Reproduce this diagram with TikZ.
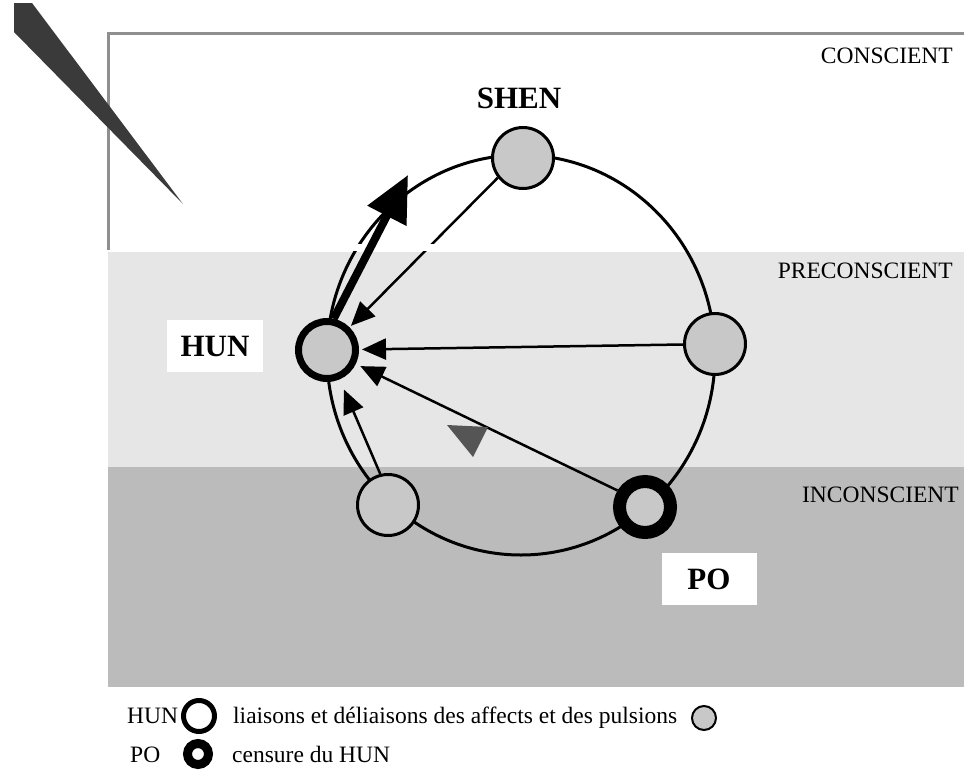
\documentclass[tikz,border=0pt]{standalone}
\usepackage{fontspec}
\setmainfont{Liberation Serif}
\usetikzlibrary{arrows.meta}

\definecolor{preC}{HTML}{E6E6E6}
\definecolor{inC}{HTML}{BBBBBB}
\definecolor{hatchC}{HTML}{C8C8C8}
\definecolor{frameC}{HTML}{8F8F8F}
\definecolor{wedgeC}{HTML}{3A3A3A}
\definecolor{markC}{HTML}{555555}

\begin{document}
\begin{tikzpicture}[x=1pt,y=-1pt,
  txt/.style={font=\fontsize{23.5}{28}\selectfont, inner sep=0pt},
  bigtxt/.style={font=\fontsize{31}{36}\selectfont\bfseries, inner sep=0pt},
  psyche/.style={circle, draw, line width=3pt, fill=hatchC, minimum size=61pt, inner sep=0pt},
  hunnode/.style={psyche, line width=7pt, minimum size=57pt},
  ponode/.style={psyche, line width=13pt, minimum size=51pt},
  conn/.style={line width=2.5pt, -{Triangle[length=24pt,width=21pt]}},
  mainarrow/.style={line width=8pt, -{Triangle[length=46pt,width=42pt]}},
  labelbox/.style={fill=white, inner sep=0pt},
]
\useasboundingbox (0,0) rectangle (964,774);

% levels of the psyche
\fill[preC] (108,252) rectangle (964,467);
\fill[inC] (108,467) rectangle (964,687);
\draw[frameC, line width=3pt] (108,250) -- (108,33) -- (964,33);

% the cycle
\draw[line width=3pt] (521,355) ellipse [x radius=194, y radius=200];

% the five instances
\node[psyche] (shen) at (523,158) {};
\node[hunnode] (hun) at (327,350) {};
\node[psyche] (right) at (715,344) {};
\node[psyche] (low) at (388,505) {};
\node[ponode] (po) at (645,507) {};

% links converging on HUN
\draw[conn, shorten >=2pt] (shen.218) -- (hun);
\draw[conn, shorten >=3pt] (right) -- (hun);
\draw[conn, shorten >=5pt] (po.149) -- (hun);
\draw[conn, shorten >=11pt] (low.104) -- (hun);

% break at the level boundary
\fill[white] (340,244) rectangle (450,251);

% rising arrow out of HUN
\coordinate (rise) at (408,175);
\draw[mainarrow] (hun.78) -- (rise);

% small marker
\fill[markC] (447,425) -- (488,427) -- (473,457) -- cycle;

% names of the instances
\node[bigtxt, anchor=base] (shenlbl) at (519,108) {SHEN};
\node[labelbox, minimum width=96pt, minimum height=52pt] (hunbox) at (215,346) {};
\node[bigtxt] (hunlbl) at (215,346) {HUN};
\node[labelbox, minimum width=95pt, minimum height=52pt] (pobox) at (709,579) {};
\node[bigtxt] (polbl) at (709,579) {PO};

% level names
\node[txt, anchor=base east] (lc) at (953,63) {CONSCIENT};
\node[txt, anchor=base east] (lp) at (953,278) {PRECONSCIENT};
\node[txt, anchor=base east] (li) at (959,502) {INCONSCIENT};

% beam
\fill[wedgeC] (14,3) -- (32,3) -- (183,204) -- (14,32) -- cycle;

% legend
\node[txt, anchor=base west] (lghun) at (127,723) {HUN};
\node[circle, draw, line width=5pt, fill=white, minimum size=31pt, inner sep=0pt] (lgring) at (199,716) {};
\node[txt, anchor=base west] (lgtext1) at (233,723) {liaisons et déliaisons des affects et des pulsions};
\node[circle, draw, line width=2pt, fill=hatchC, minimum size=24pt, inner sep=0pt] (lghatch) at (704,718) {};
\node[txt, anchor=base west] (lgpo) at (130,762) {PO};
\node[circle, draw, line width=9pt, fill=white, minimum size=21pt, inner sep=0pt] (lgcens) at (198,754) {};
\node[txt, anchor=base west] (lgtext2) at (232,762) {censure du HUN};
\end{tikzpicture}
\end{document}
